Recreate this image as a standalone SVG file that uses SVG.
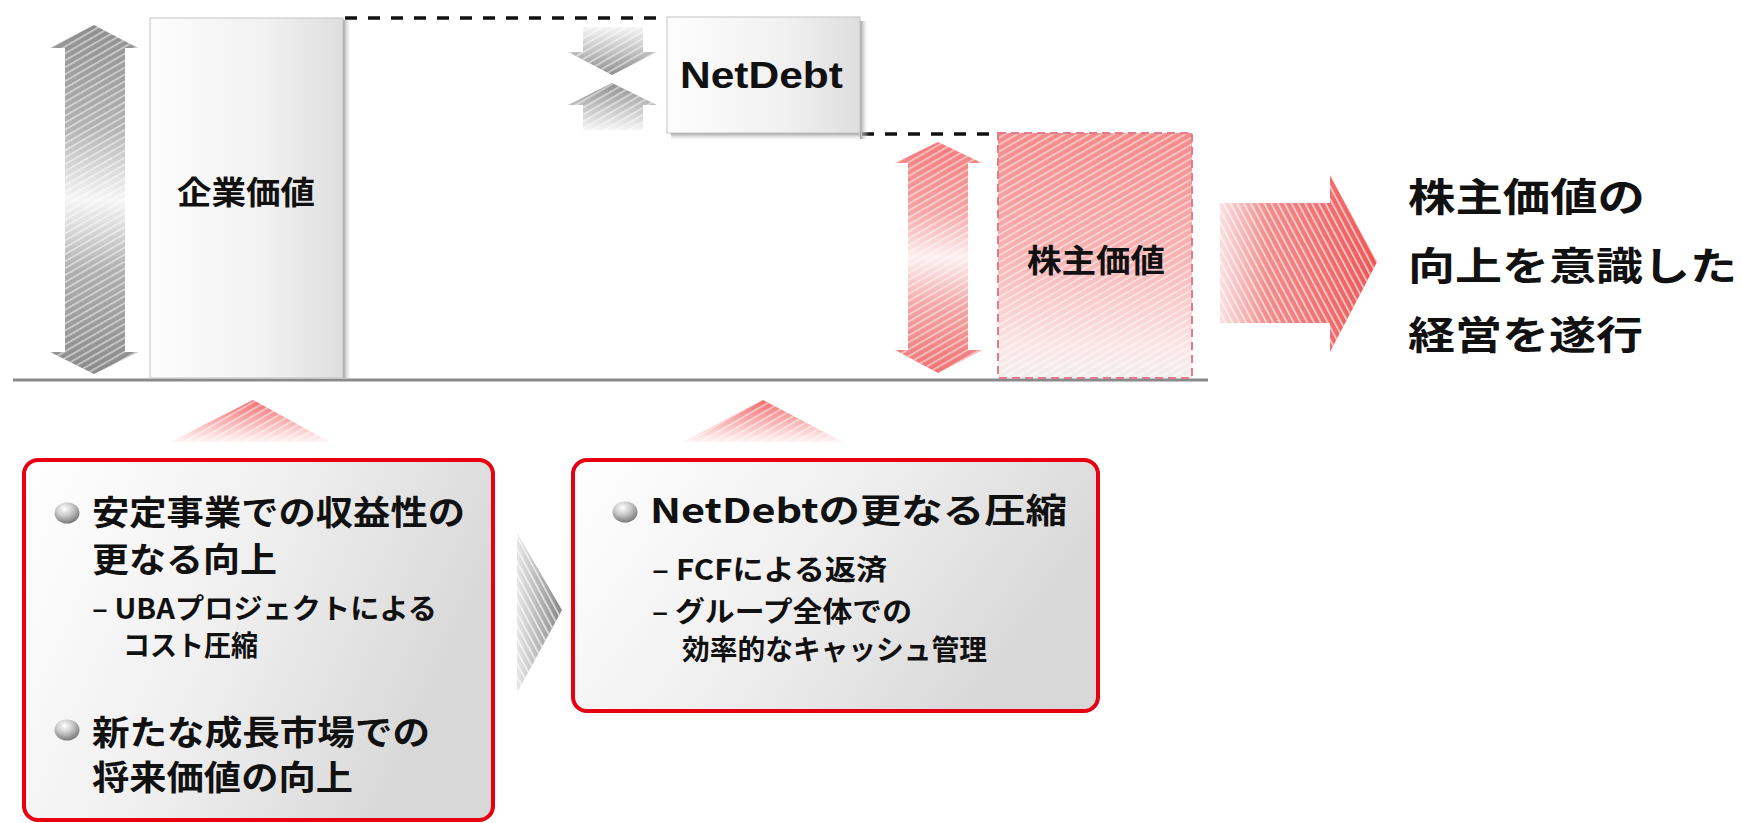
<svg xmlns="http://www.w3.org/2000/svg" width="1742" height="823" viewBox="0 0 1742 823">
<style>
.jp{font-family:"Noto Sans CJK JP","Noto Sans CJK SC",sans-serif;font-weight:bold;fill:#111}
.lat{font-family:"Liberation Sans",Arial,sans-serif;font-weight:bold;fill:#111}
.dash{stroke:#111;stroke-width:3.5;stroke-dasharray:12 11;fill:none}
.rbox{stroke:#e60012;stroke-width:4;fill:url(#boxGrad)}
.gbox{stroke:#c4c4c4;stroke-width:1;fill:url(#lightGrad)}
.hatchW{fill:url(#hatchA)}
.hatchS{fill:url(#hatchB)}
</style>
<defs>
  <pattern id="hatchA" patternUnits="userSpaceOnUse" width="6" height="6" patternTransform="rotate(-30)">
    <rect x="0" y="0" width="6" height="1.6" fill="#fff" fill-opacity="0.55"/>
  </pattern>
  <pattern id="hatchB" patternUnits="userSpaceOnUse" width="6" height="6" patternTransform="rotate(-28)">
    <rect x="0" y="0" width="1.6" height="6" fill="#fff" fill-opacity="0.7"/>
  </pattern>
  <linearGradient id="lightGrad" x1="0" y1="0" x2="1" y2="0">
    <stop offset="0" stop-color="#fdfdfd"/>
    <stop offset="0.6" stop-color="#f1f1f1"/>
    <stop offset="1" stop-color="#dedede"/>
  </linearGradient>
  <linearGradient id="boxGrad" x1="0" y1="0" x2="1" y2="0.35">
    <stop offset="0" stop-color="#ffffff"/>
    <stop offset="0.5" stop-color="#f0f0f0"/>
    <stop offset="1" stop-color="#d8d8d8"/>
  </linearGradient>
  <linearGradient id="grayDbl" x1="0" y1="0" x2="0" y2="1">
    <stop offset="0" stop-color="#8e8e8e"/>
    <stop offset="0.3" stop-color="#b4b4b4"/>
    <stop offset="0.5" stop-color="#f6f6f6"/>
    <stop offset="0.7" stop-color="#b0b0b0"/>
    <stop offset="1" stop-color="#8a8a8a"/>
  </linearGradient>
  <linearGradient id="pinkDbl" x1="0" y1="0" x2="0" y2="1">
    <stop offset="0" stop-color="#f27a7a"/>
    <stop offset="0.3" stop-color="#f5a5a5"/>
    <stop offset="0.5" stop-color="#fdf0f0"/>
    <stop offset="0.7" stop-color="#f3a8a8"/>
    <stop offset="1" stop-color="#ef7373"/>
  </linearGradient>
  <linearGradient id="pinkBox" x1="0" y1="0" x2="0" y2="1">
    <stop offset="0" stop-color="#f48a8a"/>
    <stop offset="0.5" stop-color="#f7b3b3"/>
    <stop offset="0.88" stop-color="#fbe6e6"/>
    <stop offset="1" stop-color="#f1eded"/>
  </linearGradient>
  <linearGradient id="downGrad" x1="0" y1="0" x2="0" y2="1">
    <stop offset="0" stop-color="#f4f4f4"/>
    <stop offset="1" stop-color="#8f8f8f"/>
  </linearGradient>
  <linearGradient id="upGrad" x1="0" y1="0" x2="0" y2="1">
    <stop offset="0" stop-color="#8f8f8f"/>
    <stop offset="1" stop-color="#f4f4f4"/>
  </linearGradient>
  <linearGradient id="bigArrow" x1="0" y1="0" x2="1" y2="0">
    <stop offset="0" stop-color="#fbe0e0"/>
    <stop offset="0.3" stop-color="#f38b8b"/>
    <stop offset="1" stop-color="#ee5656"/>
  </linearGradient>
  <linearGradient id="triPink" x1="0" y1="0" x2="0" y2="1">
    <stop offset="0" stop-color="#f06c6c"/>
    <stop offset="1" stop-color="#fff4f4"/>
  </linearGradient>
  <linearGradient id="chevGrad" x1="0" y1="0" x2="1" y2="0">
    <stop offset="0" stop-color="#e6e6e6"/>
    <stop offset="1" stop-color="#858585"/>
  </linearGradient>
  <linearGradient id="shadowR" x1="0" y1="0" x2="1" y2="0">
    <stop offset="0" stop-color="#9a9a9a"/>
    <stop offset="1" stop-color="#ffffff" stop-opacity="0"/>
  </linearGradient>
  <linearGradient id="shadowB" x1="0" y1="0" x2="0" y2="1">
    <stop offset="0" stop-color="#9a9a9a"/>
    <stop offset="1" stop-color="#ffffff" stop-opacity="0"/>
  </linearGradient>
  <radialGradient id="ball" cx="0.4" cy="0.3" r="0.75">
    <stop offset="0" stop-color="#ffffff"/>
    <stop offset="0.45" stop-color="#c9c9c9"/>
    <stop offset="1" stop-color="#6f6f6f"/>
  </radialGradient>
  <path id="grayDblP" d="M94,25 L138,48 L125,48 L125,352 L138,352 L94,374 L50,352 L65,352 L65,48 L50,48 Z"/>
  <path id="pinkDblP" d="M938,142 L982,163 L968,163 L968,350 L982,350 L938,373 L895,350 L908,350 L908,163 L895,163 Z"/>
  <path id="downP" d="M583,27 L643,27 L643,52 L657,52 L612,75 L568,52 L583,52 Z"/>
  <path id="upP" d="M612,83 L657,105 L643,105 L643,130 L583,130 L583,105 L568,105 Z"/>
  <path id="bigP" d="M1220,203 L1330,203 L1330,175 L1377,262 L1330,352 L1330,323 L1220,323 Z"/>
  <path id="tri1P" d="M170,442 L253,400 L330,442 Z"/>
  <path id="tri2P" d="M683,442 L763,400 L843,442 Z"/>
  <path id="chevP" d="M517,533 L562,610 L517,693 Z"/>
</defs>

<rect x="0" y="0" width="1742" height="823" fill="#ffffff"/>

<g id="connectors">
  <line id="baseline" x1="13" y1="380" x2="1208" y2="380" stroke="#8a8a8a" stroke-width="3"/>
  <line class="dash" x1="345" y1="18" x2="667" y2="18"/>
  <line class="dash" x1="862" y1="134" x2="998" y2="134"/>
  <g id="arrow-ev">
    <use href="#grayDblP" fill="url(#grayDbl)"/>
    <use href="#grayDblP" class="hatchW"/>
  </g>
  <g id="arrow-compress">
    <use href="#downP" fill="url(#downGrad)"/>
    <use href="#downP" class="hatchW"/>
    <use href="#upP" fill="url(#upGrad)"/>
    <use href="#upP" class="hatchW"/>
  </g>
  <g id="arrow-sv">
    <use href="#pinkDblP" fill="url(#pinkDbl)"/>
    <use href="#pinkDblP" class="hatchW"/>
  </g>
  <g id="arrow-big">
    <use href="#bigP" fill="url(#bigArrow)"/>
    <use href="#bigP" class="hatchS"/>
  </g>
  <g id="arrow-up1">
    <use href="#tri1P" fill="url(#triPink)"/>
    <use href="#tri1P" class="hatchW"/>
  </g>
  <g id="arrow-up2">
    <use href="#tri2P" fill="url(#triPink)"/>
    <use href="#tri2P" class="hatchW"/>
  </g>
  <g id="arrow-chevron">
    <use href="#chevP" fill="url(#chevGrad)"/>
    <use href="#chevP" class="hatchS"/>
  </g>
</g>

<g id="node-enterprise-value">
  <rect x="343" y="20" width="9" height="358" fill="url(#shadowR)"/>
  <rect class="gbox" x="150" y="18" width="193" height="360"/>
  <text class="jp" x="177" y="204" font-size="32" textLength="138" lengthAdjust="spacingAndGlyphs">企業価値</text>
</g>

<g id="node-netdebt">
  <rect x="860" y="21" width="9" height="118" fill="url(#shadowR)"/>
  <rect x="671" y="133" width="189" height="8" fill="url(#shadowB)"/>
  <rect class="gbox" x="667" y="17" width="193" height="116"/>
  <text class="lat" x="680" y="88" font-size="36" textLength="163" lengthAdjust="spacingAndGlyphs">NetDebt</text>
</g>

<g id="node-shareholder-value">
  <rect x="998" y="133" width="194" height="245" fill="url(#pinkBox)"/>
  <rect x="998" y="133" width="194" height="245" class="hatchW"/>
  <rect x="998" y="133" width="194" height="245" fill="none" stroke="#e27c8c" stroke-width="2" stroke-dasharray="8 5"/>
  <text class="jp" x="1027" y="272" font-size="32" textLength="138" lengthAdjust="spacingAndGlyphs">株主価値</text>
</g>

<g id="node-goal">
  <text class="jp" x="1408" y="211" font-size="39" textLength="237" lengthAdjust="spacingAndGlyphs">株主価値の</text>
  <text class="jp" x="1408" y="280" font-size="39" textLength="329" lengthAdjust="spacingAndGlyphs">向上を意識した</text>
  <text class="jp" x="1408" y="349" font-size="39" textLength="235" lengthAdjust="spacingAndGlyphs">経営を遂行</text>
</g>

<g id="node-profit">
  <rect class="rbox" x="24" y="460" width="469" height="360" rx="14"/>
  <ellipse cx="67" cy="513" rx="12.5" ry="10.5" fill="url(#ball)"/>
  <text class="jp" x="92" y="525" font-size="34" textLength="373" lengthAdjust="spacingAndGlyphs">安定事業での収益性の</text>
  <text class="jp" x="92" y="572" font-size="34" textLength="185" lengthAdjust="spacingAndGlyphs">更なる向上</text>
  <text class="jp" x="92" y="619" font-size="28" textLength="345" lengthAdjust="spacingAndGlyphs">– UBAプロジェクトによる</text>
  <text class="jp" x="123" y="656" font-size="28" textLength="135" lengthAdjust="spacingAndGlyphs">コスト圧縮</text>
  <ellipse cx="67" cy="730" rx="12.5" ry="10.5" fill="url(#ball)"/>
  <text class="jp" x="92" y="745" font-size="34" textLength="338" lengthAdjust="spacingAndGlyphs">新たな成長市場での</text>
  <text class="jp" x="92" y="790" font-size="34" textLength="261" lengthAdjust="spacingAndGlyphs">将来価値の向上</text>
</g>

<g id="node-debt">
  <rect class="rbox" x="573" y="460" width="525" height="251" rx="14"/>
  <ellipse cx="625" cy="512" rx="12.5" ry="10.5" fill="url(#ball)"/>
  <text class="jp" x="650" y="523" font-size="34" textLength="417" lengthAdjust="spacingAndGlyphs">NetDebtの更なる圧縮</text>
  <text class="jp" x="652" y="580" font-size="28" textLength="235" lengthAdjust="spacingAndGlyphs">– FCFによる返済</text>
  <text class="jp" x="652" y="622" font-size="28" textLength="260" lengthAdjust="spacingAndGlyphs">– グループ全体での</text>
  <text class="jp" x="682" y="660" font-size="28" textLength="305" lengthAdjust="spacingAndGlyphs">効率的なキャッシュ管理</text>
</g>
</svg>
